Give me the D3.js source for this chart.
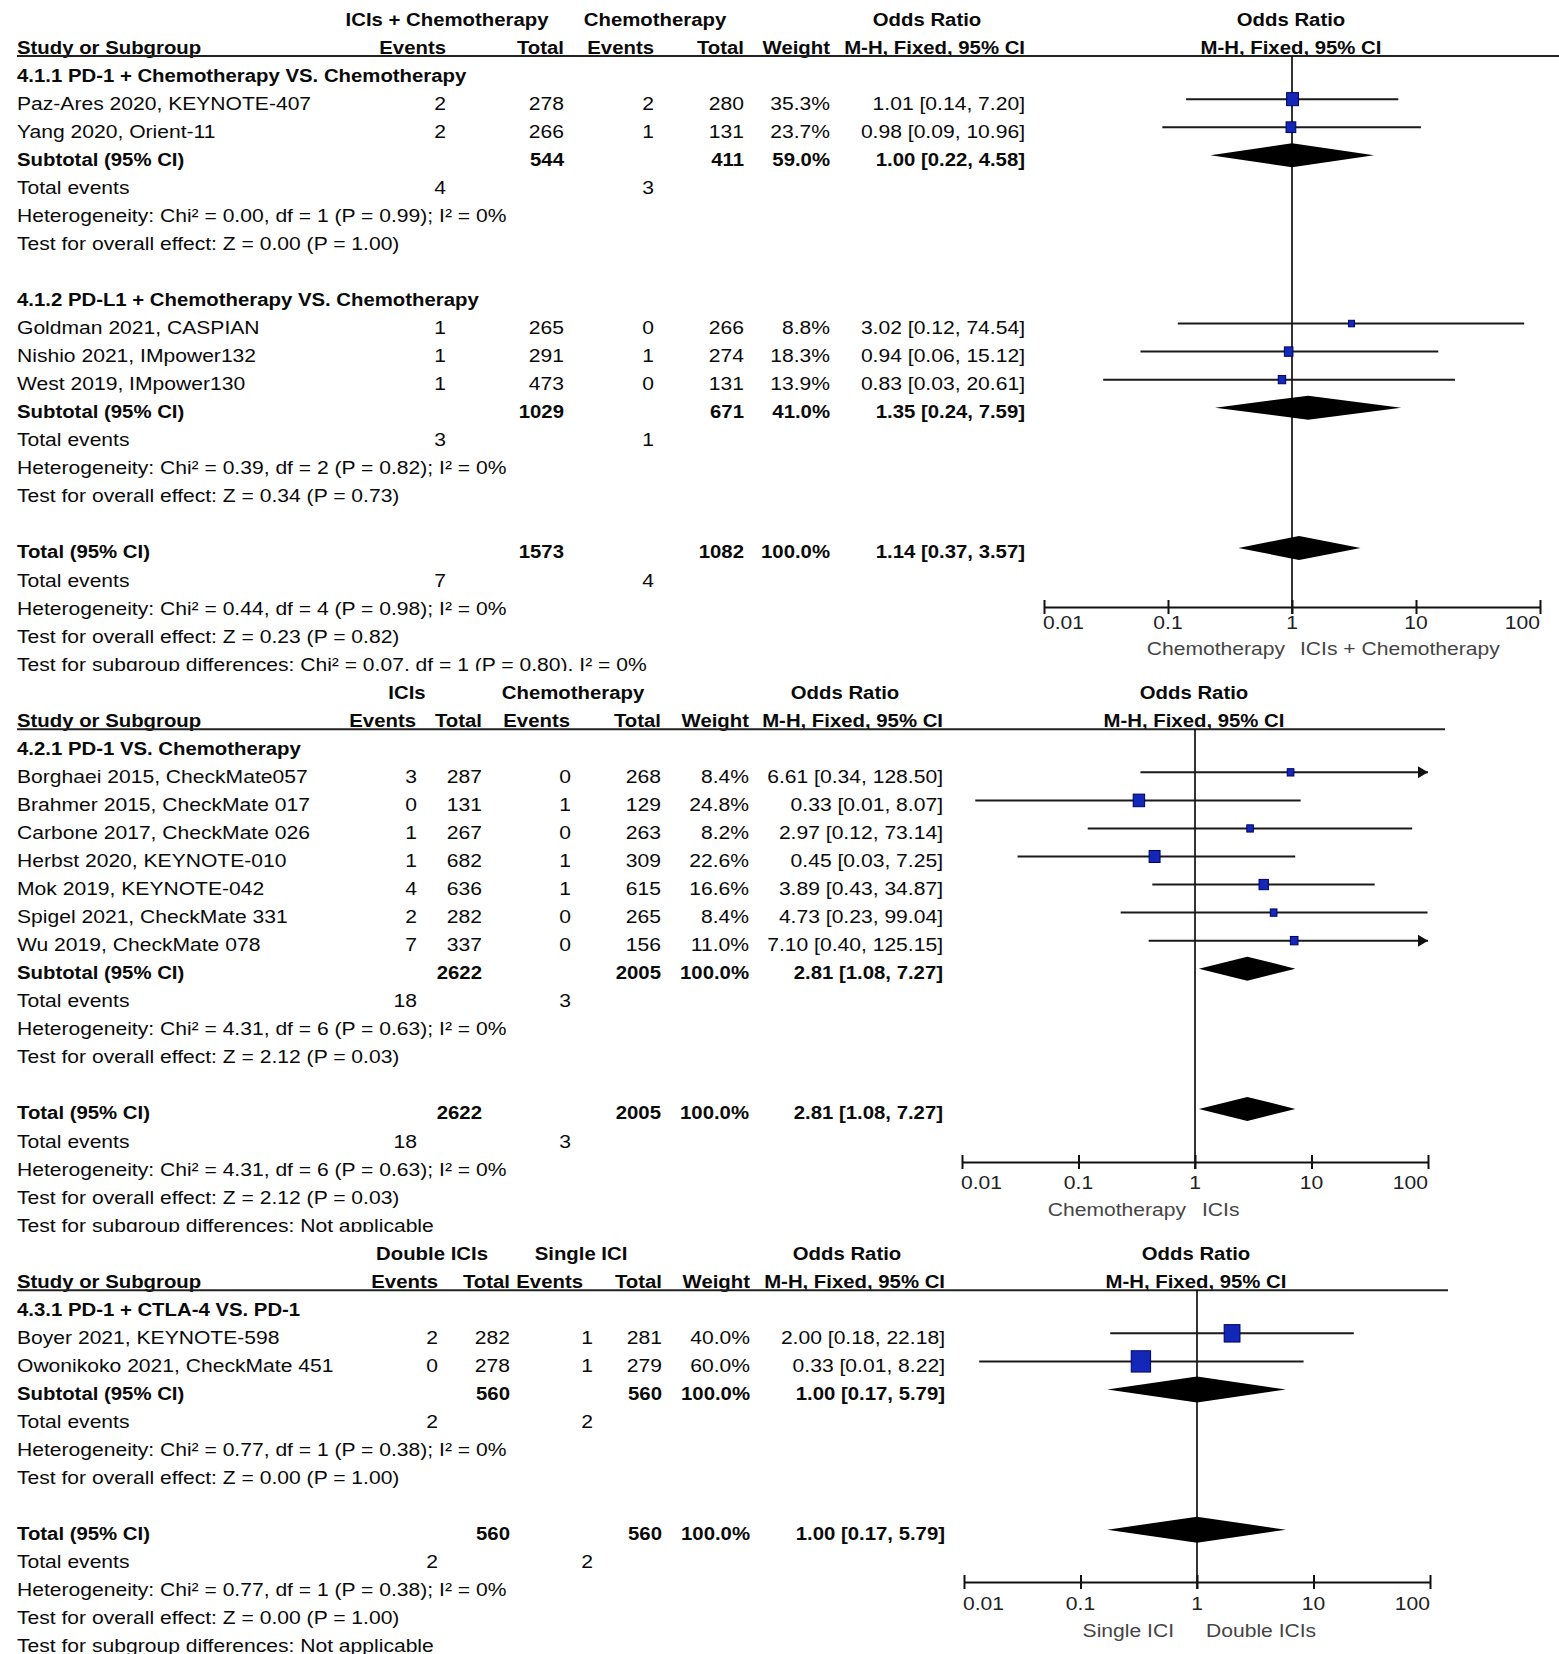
<!DOCTYPE html>
<html><head><meta charset="utf-8">
<script src="https://cdn.jsdelivr.net/npm/d3@7"></script>
<style>body{margin:0;background:#fff} svg{display:block}</style>
</head><body><svg id="c" width="1559" height="1654"></svg>
<script>
// ================= DATA =================
const tickValues = [0.01, 0.1, 1, 10, 100];
const tickLabels = ["0.01", "0.1", "1", "10", "100"];

// ---- Panel 1 : ICIs + Chemotherapy vs Chemotherapy
const p1ExpLabel = "ICIs + Chemotherapy";
const p1CtlLabel = "Chemotherapy";
const p1Favours = ["Chemotherapy", "ICIs + Chemotherapy"];
const p1SubTitles = ["4.1.1 PD-1 + Chemotherapy VS. Chemotherapy", "4.1.2 PD-L1 + Chemotherapy VS. Chemotherapy"];
const p1Study = ["Paz-Ares 2020, KEYNOTE-407", "Yang 2020, Orient-11", "Goldman 2021, CASPIAN", "Nishio 2021, IMpower132", "West 2019, IMpower130"];
const p1StudySub = [0, 0, 1, 1, 1];
const p1ExpEvents = [2, 2, 1, 1, 1];
const p1ExpTotal = [278, 266, 265, 291, 473];
const p1CtlEvents = [2, 1, 0, 1, 0];
const p1CtlTotal = [280, 131, 266, 274, 131];
const p1Weight = [35.3, 23.7, 8.8, 18.3, 13.9];
const p1OR = [1.01, 0.98, 3.02, 0.94, 0.83];
const p1Lo = [0.14, 0.09, 0.12, 0.06, 0.03];
const p1Hi = [7.20, 10.96, 74.54, 15.12, 20.61];
const p1SubExpTotal = [544, 1029];
const p1SubCtlTotal = [411, 671];
const p1SubWeight = [59.0, 41.0];
const p1SubOR = [1.00, 1.35];
const p1SubLo = [0.22, 0.24];
const p1SubHi = [4.58, 7.59];
const p1SubExpEvents = [4, 3];
const p1SubCtlEvents = [3, 1];
const p1SubHet = ["Heterogeneity: Chi² = 0.00, df = 1 (P = 0.99); I² = 0%", "Heterogeneity: Chi² = 0.39, df = 2 (P = 0.82); I² = 0%"];
const p1SubTest = ["Test for overall effect: Z = 0.00 (P = 1.00)", "Test for overall effect: Z = 0.34 (P = 0.73)"];
const p1Total = {expTotal: 1573, ctlTotal: 1082, weight: 100.0, or: 1.14, lo: 0.37, hi: 3.57, expEvents: 7, ctlEvents: 4};
const p1TotHet = "Heterogeneity: Chi² = 0.44, df = 4 (P = 0.98); I² = 0%";
const p1TotTest = "Test for overall effect: Z = 0.23 (P = 0.82)";
const p1SubDiff = "Test for subgroup differences: Chi² = 0.07, df = 1 (P = 0.80), I² = 0%";

// ---- Panel 2 : ICIs vs Chemotherapy
const p2ExpLabel = "ICIs";
const p2CtlLabel = "Chemotherapy";
const p2Favours = ["Chemotherapy", "ICIs"];
const p2SubTitles = ["4.2.1 PD-1 VS. Chemotherapy"];
const p2Study = ["Borghaei 2015, CheckMate057", "Brahmer 2015, CheckMate 017", "Carbone 2017, CheckMate 026", "Herbst 2020, KEYNOTE-010", "Mok 2019, KEYNOTE-042", "Spigel 2021, CheckMate 331", "Wu 2019, CheckMate 078"];
const p2StudySub = [0, 0, 0, 0, 0, 0, 0];
const p2ExpEvents = [3, 0, 1, 1, 4, 2, 7];
const p2ExpTotal = [287, 131, 267, 682, 636, 282, 337];
const p2CtlEvents = [0, 1, 0, 1, 1, 0, 0];
const p2CtlTotal = [268, 129, 263, 309, 615, 265, 156];
const p2Weight = [8.4, 24.8, 8.2, 22.6, 16.6, 8.4, 11.0];
const p2OR = [6.61, 0.33, 2.97, 0.45, 3.89, 4.73, 7.10];
const p2Lo = [0.34, 0.013, 0.12, 0.03, 0.43, 0.23, 0.40];
const p2Hi = [128.50, 8.07, 73.14, 7.25, 34.87, 99.04, 125.15];
const p2SubExpTotal = [2622];
const p2SubCtlTotal = [2005];
const p2SubWeight = [100.0];
const p2SubOR = [2.81];
const p2SubLo = [1.08];
const p2SubHi = [7.27];
const p2SubExpEvents = [18];
const p2SubCtlEvents = [3];
const p2SubHet = ["Heterogeneity: Chi² = 4.31, df = 6 (P = 0.63); I² = 0%"];
const p2SubTest = ["Test for overall effect: Z = 2.12 (P = 0.03)"];
const p2Total = {expTotal: 2622, ctlTotal: 2005, weight: 100.0, or: 2.81, lo: 1.08, hi: 7.27, expEvents: 18, ctlEvents: 3};
const p2TotHet = "Heterogeneity: Chi² = 4.31, df = 6 (P = 0.63); I² = 0%";
const p2TotTest = "Test for overall effect: Z = 2.12 (P = 0.03)";
const p2SubDiff = "Test for subgroup differences: Not applicable";

// ---- Panel 3 : Double ICIs vs Single ICI
const p3ExpLabel = "Double ICIs";
const p3CtlLabel = "Single ICI";
const p3Favours = ["Single ICI", "Double ICIs"];
const p3SubTitles = ["4.3.1 PD-1 + CTLA-4 VS. PD-1"];
const p3Study = ["Boyer 2021, KEYNOTE-598", "Owonikoko 2021, CheckMate 451"];
const p3StudySub = [0, 0];
const p3ExpEvents = [2, 0];
const p3ExpTotal = [282, 278];
const p3CtlEvents = [1, 1];
const p3CtlTotal = [281, 279];
const p3Weight = [40.0, 60.0];
const p3OR = [2.00, 0.33];
const p3Lo = [0.18, 0.0135];
const p3Hi = [22.18, 8.22];
const p3SubExpTotal = [560];
const p3SubCtlTotal = [560];
const p3SubWeight = [100.0];
const p3SubOR = [1.00];
const p3SubLo = [0.17];
const p3SubHi = [5.79];
const p3SubExpEvents = [2];
const p3SubCtlEvents = [2];
const p3SubHet = ["Heterogeneity: Chi² = 0.77, df = 1 (P = 0.38); I² = 0%"];
const p3SubTest = ["Test for overall effect: Z = 0.00 (P = 1.00)"];
const p3Total = {expTotal: 560, ctlTotal: 560, weight: 100.0, or: 1.00, lo: 0.17, hi: 5.79, expEvents: 2, ctlEvents: 2};
const p3TotHet = "Heterogeneity: Chi² = 0.77, df = 1 (P = 0.38); I² = 0%";
const p3TotTest = "Test for overall effect: Z = 0.00 (P = 1.00)";
const p3SubDiff = "Test for subgroup differences: Not applicable";

// ================= BUILD =================
const panels = [
  {expLabel: p1ExpLabel, ctlLabel: p1CtlLabel, favours: p1Favours, subTitles: p1SubTitles, study: p1Study, studySub: p1StudySub,
   expEvents: p1ExpEvents, expTotal: p1ExpTotal, ctlEvents: p1CtlEvents, ctlTotal: p1CtlTotal, weight: p1Weight, or: p1OR, lo: p1Lo, hi: p1Hi,
   subExpTotal: p1SubExpTotal, subCtlTotal: p1SubCtlTotal, subWeight: p1SubWeight, subOR: p1SubOR, subLo: p1SubLo, subHi: p1SubHi,
   subExpEvents: p1SubExpEvents, subCtlEvents: p1SubCtlEvents, subHet: p1SubHet, subTest: p1SubTest,
   total: p1Total, totHet: p1TotHet, totTest: p1TotTest, subDiff: p1SubDiff},
  {expLabel: p2ExpLabel, ctlLabel: p2CtlLabel, favours: p2Favours, subTitles: p2SubTitles, study: p2Study, studySub: p2StudySub,
   expEvents: p2ExpEvents, expTotal: p2ExpTotal, ctlEvents: p2CtlEvents, ctlTotal: p2CtlTotal, weight: p2Weight, or: p2OR, lo: p2Lo, hi: p2Hi,
   subExpTotal: p2SubExpTotal, subCtlTotal: p2SubCtlTotal, subWeight: p2SubWeight, subOR: p2SubOR, subLo: p2SubLo, subHi: p2SubHi,
   subExpEvents: p2SubExpEvents, subCtlEvents: p2SubCtlEvents, subHet: p2SubHet, subTest: p2SubTest,
   total: p2Total, totHet: p2TotHet, totTest: p2TotTest, subDiff: p2SubDiff},
  {expLabel: p3ExpLabel, ctlLabel: p3CtlLabel, favours: p3Favours, subTitles: p3SubTitles, study: p3Study, studySub: p3StudySub,
   expEvents: p3ExpEvents, expTotal: p3ExpTotal, ctlEvents: p3CtlEvents, ctlTotal: p3CtlTotal, weight: p3Weight, or: p3OR, lo: p3Lo, hi: p3Hi,
   subExpTotal: p3SubExpTotal, subCtlTotal: p3SubCtlTotal, subWeight: p3SubWeight, subOR: p3SubOR, subLo: p3SubLo, subHi: p3SubHi,
   subExpEvents: p3SubExpEvents, subCtlEvents: p3SubCtlEvents, subHet: p3SubHet, subTest: p3SubTest,
   total: p3Total, totHet: p3TotHet, totTest: p3TotTest, subDiff: p3SubDiff}
];

const layouts = [
  {row0: 0, hdrE: 447, hdrC: 655, hdrOR: 927, hEvE: 446, evE: 446, totE: 564, hEvC: 654, evC: 654, totC: 744, wt: 830, orX: 1025,
   center: 1292, decade: 124, lineRight: 1559, axisY: 607, tickY: 629, favY: 655, favGapL: 7, favGapR: 8, clip: [0, 671], boxMax: 20, diaH: 12},
  {row0: 24, hdrE: 407, hdrC: 573, hdrOR: 845, hEvE: 416, evE: 417, totE: 482, hEvC: 570, evC: 571, totC: 661, wt: 749, orX: 943,
   center: 1195, decade: 116.5, lineRight: 1445, axisY: 1162, tickY: 1189, favY: 1216, favGapL: 9, favGapR: 7, clip: [671, 1232], boxMax: 23, diaH: 12},
  {row0: 44, hdrE: 432, hdrC: 581, hdrOR: 847, hEvE: 438, evE: 438, totE: 510, hEvC: 583, evC: 593, totC: 662, wt: 750, orX: 945,
   center: 1197, decade: 116.5, lineRight: 1448, axisY: 1582, tickY: 1610, favY: 1637, favGapL: 23, favGapR: 9, clip: [1232, 1654], boxMax: 25, diaH: 13}
];

const ROW0 = 19, ROWH = 28.05;
const yc = r => ROW0 + ROWH * r;
const base = r => yc(r) + 6.5;
const mid = r => yc(r) - 4;
const SX_REG = 1.14, SX_BOLD = 1.10;
const f2 = d3.format(".2f"), f1 = d3.format(".1f");
const ciText = (o, l, h) => `${f2(o)} [${f2(l)}, ${f2(h)}]`;

const svg = d3.select("#c")
  .attr("font-family", "'Liberation Sans', Arial, sans-serif")
  .attr("font-size", 18.5);
svg.append("rect").attr("width", 1559).attr("height", 1654).attr("fill", "#fff");
const defs = svg.append("defs");

function txt(g, x, y, s, anchor = "start", bold = false, color = "#0a0a0a") {
  g.append("text")
    .attr("transform", `translate(${x},${y}) scale(${bold ? SX_BOLD : SX_REG},1)`)
    .attr("text-anchor", anchor)
    .attr("font-weight", bold ? "bold" : "normal")
    .attr("fill", color)
    .text(s);
}

panels.forEach((P, pi) => {
  const L = layouts[pi];
  const clipId = "clip" + pi;
  defs.append("clipPath").attr("id", clipId).append("rect")
    .attr("x", 0).attr("y", L.clip[0]).attr("width", 1559).attr("height", L.clip[1] - L.clip[0]);
  const g = svg.append("g").attr("clip-path", `url(#${clipId})`);
  const x = d3.scaleLog().domain([0.01, 100]).range([L.center - 2 * L.decade, L.center + 2 * L.decade]);
  const size = d3.scaleSqrt().domain([0, 100]).range([0, L.boxMax]);
  const marks = [];
  let r = L.row0;

  // header row 1
  txt(g, L.hdrE, base(r), P.expLabel, "middle", true);
  txt(g, L.hdrC, base(r), P.ctlLabel, "middle", true);
  txt(g, L.hdrOR, base(r), "Odds Ratio", "middle", true);
  txt(g, L.center - 1, base(r), "Odds Ratio", "middle", true);
  r++;
  // header row 2
  txt(g, 17, base(r), "Study or Subgroup", "start", true);
  txt(g, L.hEvE, base(r), "Events", "end", true);
  txt(g, L.totE, base(r), "Total", "end", true);
  txt(g, L.hEvC, base(r), "Events", "end", true);
  txt(g, L.totC, base(r), "Total", "end", true);
  txt(g, L.wt, base(r), "Weight", "end", true);
  txt(g, L.orX, base(r), "M-H, Fixed, 95% CI", "end", true);
  txt(g, L.center - 1, base(r), "M-H, Fixed, 95% CI", "middle", true);
  const lineY = yc(r) + 9;
  g.append("line").attr("x1", 17).attr("x2", L.lineRight).attr("y1", lineY).attr("y2", lineY)
    .attr("stroke", "#222").attr("stroke-width", 2);
  r++;

  P.subTitles.forEach((title, s) => {
    txt(g, 17, base(r), title, "start", true); r++;
    P.study.forEach((name, i) => {
      if (P.studySub[i] !== s) return;
      txt(g, 17, base(r), name);
      txt(g, L.evE, base(r), P.expEvents[i], "end");
      txt(g, L.totE, base(r), P.expTotal[i], "end");
      txt(g, L.evC, base(r), P.ctlEvents[i], "end");
      txt(g, L.totC, base(r), P.ctlTotal[i], "end");
      txt(g, L.wt, base(r), f1(P.weight[i]) + "%", "end");
      txt(g, L.orX, base(r), ciText(P.or[i], P.lo[i], P.hi[i]), "end");
      marks.push({type: "study", r, or: P.or[i], lo: P.lo[i], hi: P.hi[i], w: P.weight[i]});
      r++;
    });
    txt(g, 17, base(r), "Subtotal (95% CI)", "start", true);
    txt(g, L.totE, base(r), P.subExpTotal[s], "end", true);
    txt(g, L.totC, base(r), P.subCtlTotal[s], "end", true);
    txt(g, L.wt, base(r), f1(P.subWeight[s]) + "%", "end", true);
    txt(g, L.orX, base(r), ciText(P.subOR[s], P.subLo[s], P.subHi[s]), "end", true);
    marks.push({type: "diamond", r, or: P.subOR[s], lo: P.subLo[s], hi: P.subHi[s]});
    r++;
    txt(g, 17, base(r), "Total events");
    txt(g, L.evE, base(r), P.subExpEvents[s], "end");
    txt(g, L.evC, base(r), P.subCtlEvents[s], "end");
    r++;
    txt(g, 17, base(r), P.subHet[s]); r++;
    txt(g, 17, base(r), P.subTest[s]); r++;
    r++; // blank
  });

  const T = P.total;
  txt(g, 17, base(r), "Total (95% CI)", "start", true);
  txt(g, L.totE, base(r), T.expTotal, "end", true);
  txt(g, L.totC, base(r), T.ctlTotal, "end", true);
  txt(g, L.wt, base(r), f1(T.weight) + "%", "end", true);
  txt(g, L.orX, base(r), ciText(T.or, T.lo, T.hi), "end", true);
  marks.push({type: "diamond", r, or: T.or, lo: T.lo, hi: T.hi});
  r++;
  txt(g, 17, base(r), "Total events");
  txt(g, L.evE, base(r), T.expEvents, "end");
  txt(g, L.evC, base(r), T.ctlEvents, "end");
  r++;
  txt(g, 17, base(r), P.totHet); r++;
  txt(g, 17, base(r), P.totTest); r++;
  txt(g, 17, base(r), P.subDiff); r++;

  // ---- plot
  const pg = g.append("g");
  pg.append("line").attr("x1", x(1)).attr("x2", x(1)).attr("y1", lineY).attr("y2", L.axisY + 7)
    .attr("stroke", "#000").attr("stroke-width", 1.6);

  const studies = marks.filter(m => m.type === "study");
  const [dmin, dmax] = x.domain();
  pg.selectAll("line.ci").data(studies).join("line").attr("class", "ci")
    .attr("x1", d => x(Math.max(d.lo, dmin))).attr("x2", d => x(Math.min(d.hi, dmax)))
    .attr("y1", d => mid(d.r)).attr("y2", d => mid(d.r))
    .attr("stroke", "#1a1a1a").attr("stroke-width", 2);
  pg.selectAll("path.arrow").data(studies.filter(d => d.hi > dmax)).join("path").attr("class", "arrow")
    .attr("d", d => { const X = x(dmax), Y = mid(d.r); return `M${X},${Y}L${X - 10},${Y - 6}L${X - 10},${Y + 6}Z`; })
    .attr("fill", "#111");
  pg.selectAll("rect.box").data(studies).join("rect").attr("class", "box")
    .attr("x", d => x(d.or) - size(d.w) / 2).attr("y", d => mid(d.r) - size(d.w) * 0.55)
    .attr("width", d => size(d.w)).attr("height", d => size(d.w) * 1.1)
    .attr("fill", "#1428b8").attr("stroke", "#000066").attr("stroke-width", 1);
  pg.selectAll("path.dia").data(marks.filter(m => m.type === "diamond")).join("path").attr("class", "dia")
    .attr("d", d => { const Y = mid(d.r), h = L.diaH;
      return `M${x(d.lo)},${Y}L${x(d.or)},${Y - h}L${x(d.hi)},${Y}L${x(d.or)},${Y + h}Z`; })
    .attr("fill", "#000");

  // axis
  const axis = d3.axisBottom(x).tickValues(tickValues).tickFormat((d, i) => tickLabels[i]).tickSize(7).tickSizeOuter(0);
  const ag = pg.append("g").attr("transform", `translate(0,${L.axisY})`).call(axis);
  ag.select(".domain").attr("stroke", "#111").attr("stroke-width", 2);
  ag.selectAll(".tick line").attr("stroke", "#111").attr("stroke-width", 2).attr("y1", -7).attr("y2", 7);
  ag.selectAll(".tick text").remove();
  tickValues.forEach((v, i) => {
    const anchor = i === 0 ? "start" : (i === tickValues.length - 1 ? "end" : "middle");
    txt(pg, x(v) + (i === 0 ? -1 : 0), L.tickY, tickLabels[i], anchor, false, "#222");
  });
  txt(pg, x(1) - L.favGapL, L.favY, P.favours[0], "end", false, "#444");
  txt(pg, x(1) + L.favGapR, L.favY, P.favours[1], "start", false, "#444");
});
</script></body></html>
